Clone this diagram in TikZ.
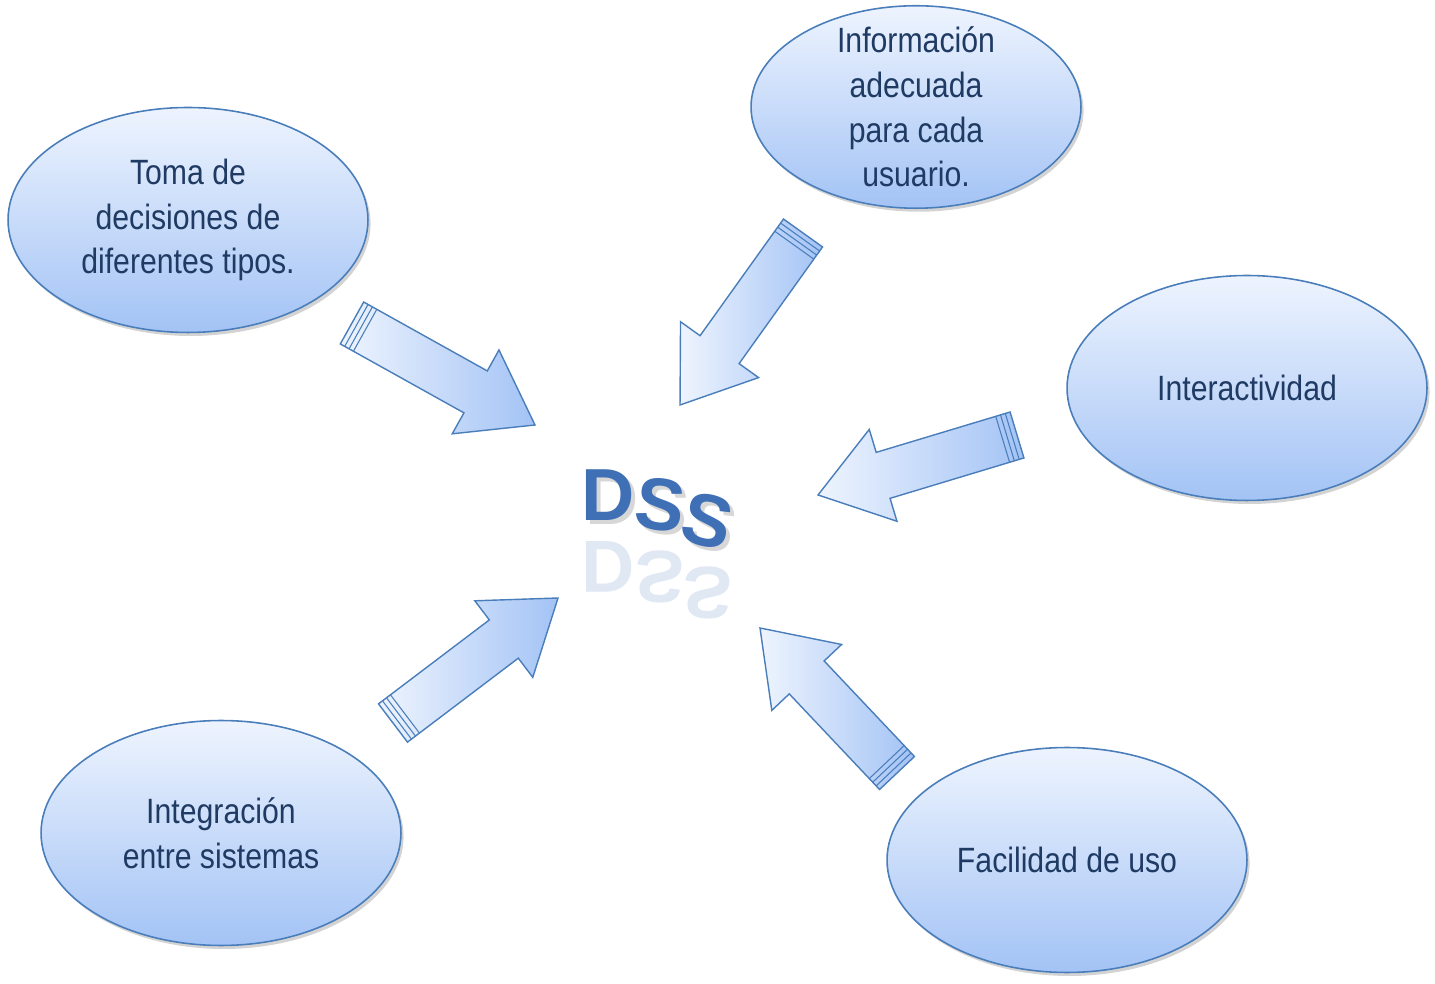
\documentclass[tikz,border=0pt]{standalone}
\usepackage{fontspec}
\setmainfont{Liberation Sans}[FakeStretch=0.86]
\newfontfamily\dssfont{Liberation Sans Bold}
\usetikzlibrary{shapes.geometric,shadows}
\definecolor{edge}{HTML}{4A7EBB}
\definecolor{txt}{HTML}{1F3A63}
\definecolor{lt}{HTML}{EEF4FE}
\definecolor{dk}{HTML}{A3C3F5}
\definecolor{dssblue}{HTML}{3F6FB5}
\tikzset{
 blob/.style={ellipse,draw=edge,line width=0.9pt,top color=lt,bottom color=dk,
   minimum width=7.2cm,minimum height=4.5cm,inner sep=0pt,align=center,
   text=txt,font=\fontsize{20}{25.5}\selectfont,
   drop shadow={shadow xshift=1.5pt,shadow yshift=-2pt,opacity=0.35}},
 barr/.style={draw=edge,line width=0.8pt,left color=lt,right color=dk,line join=miter},
}
\newcommand\barrow[4]{%
 \pgfmathsetmacro\ang{atan2(#4-#2,#3-#1)}%
 \pgfmathsetmacro\len{veclen(#3-#1,#4-#2)}%
 \begin{scope}[shift={(#1,#2)},rotate=\ang]
  \draw[barr] (0,-24)--(\len-68,-24)--(\len-68,-48)--(\len,0)--(\len-68,48)--(\len-68,24)--(0,24)--cycle;
  \foreach \s in {5,10,15}{\draw[edge,line width=0.6pt] (\s,-24)--(\s,24);}
 \end{scope}}
\begin{document}
\begin{tikzpicture}[x=0.02cm,y=0.02cm]
\useasboundingbox (0,0) rectangle (1435,983);
\node[blob] (toma) at (188,763) {Toma de\\decisiones de\\diferentes tipos.};
\node[blob,minimum width=6.6cm,minimum height=4.05cm,inner sep=-14pt] (info) at (916,876) {Información\\adecuada\\para cada\\usuario.};
\node[blob] (inter) at (1247,595) {Interactividad};
\node[blob] (integ) at (221,150) {Integración\\entre sistemas};
\node[blob] (facil) at (1067,123) {Facilidad de uso};
\barrow{352}{660}{535}{558}
\barrow{803}{750}{680}{578}
\barrow{1017}{548}{818}{488}
\barrow{393}{260}{558}{385}
\barrow{897}{210}{760}{355}
% DSS
\coordinate (dss) at (655,480);
\begin{scope}[font=\dssfont\fontsize{42}{42}\selectfont]
 \foreach \c/\x/\y/\r in {D/608/488/0,S/660/478/-8,S/708/462/-14}{
  \node[text=black!35,opacity=0.45,rotate=\r,inner sep=0pt] at (\x+4,\y-4) {\c};
  \node[text=dssblue,rotate=\r,inner sep=0pt] at (\x,\y) {\c};
  \node[text=dssblue,opacity=0.16,yscale=-1,inner sep=0pt] at (\x,\y-72) {\c};
 }
\end{scope}
\end{tikzpicture}
\end{document}
